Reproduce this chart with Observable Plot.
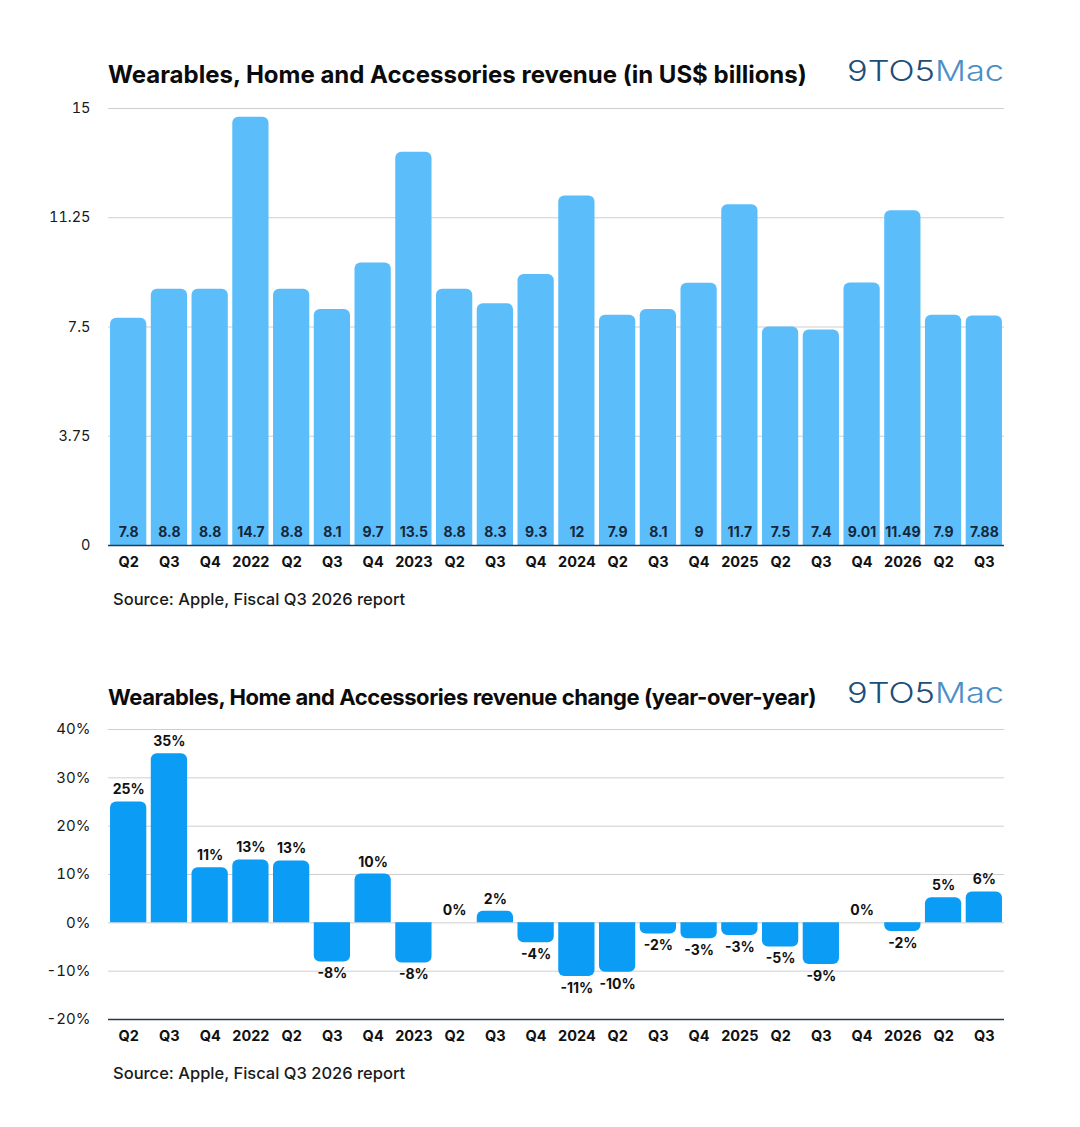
<!DOCTYPE html>
<html>
<head>
<meta charset="utf-8">
<script src="https://cdn.jsdelivr.net/npm/d3@7"></script>
<script src="https://cdn.jsdelivr.net/npm/@observablehq/plot@0.6"></script>
<style>
  html, body { margin: 0; padding: 0; background: #fff; }
  body { width: 1080px; height: 1127px; position: relative; overflow: hidden; font-family: Inter, "Noto Sans", sans-serif; color: #111; }
  .title { position: absolute; left: 108px; font-weight: 700; line-height: 30px; white-space: nowrap; color: #0b0b0b; }
  .source { position: absolute; left: 113px; font-size: 16.5px; font-weight: 500; line-height: 22px; color: #1a1a1a; white-space: nowrap; }
  .logo { position: absolute; left: 846px; width: 160px; height: 34px; }
  .chart { position: absolute; left: 0; }
</style>
</head>
<body>
<div class="title" style="top:60px; font-size:24px; letter-spacing:0px">Wearables, Home and Accessories revenue (in US$ billions)</div>
<svg class="logo" style="top:53px" viewBox="0 0 160 34"><text x="1" y="28" font-family="Inter, sans-serif" font-weight="300" font-size="28" textLength="157" lengthAdjust="spacingAndGlyphs"><tspan fill="#1d4e78">9TO5</tspan><tspan fill="#4b8fc6">Mac</tspan></text></svg>
<div id="chart1" class="chart" style="top:95px"></div>
<div class="source" style="top:588px">Source: Apple, Fiscal Q3 2026 report</div>

<div class="title" style="top:682px; font-size:22px; letter-spacing:-0.45px">Wearables, Home and Accessories revenue change (year-over-year)</div>
<svg class="logo" style="top:675px" viewBox="0 0 160 34"><text x="1" y="28" font-family="Inter, sans-serif" font-weight="300" font-size="28" textLength="157" lengthAdjust="spacingAndGlyphs"><tspan fill="#1d4e78">9TO5</tspan><tspan fill="#4b8fc6">Mac</tspan></text></svg>
<div id="chart2" class="chart" style="top:715px"></div>
<div class="source" style="top:1062px">Source: Apple, Fiscal Q3 2026 report</div>

<script>
// ---- data ----
const quarterLabels = ["Q2","Q3","Q4","2022","Q2","Q3","Q4","2023","Q2","Q3","Q4","2024","Q2","Q3","Q4","2025","Q2","Q3","Q4","2026","Q2","Q3"];
const revenue = [7.8, 8.8, 8.8, 14.7, 8.8, 8.1, 9.7, 13.5, 8.8, 8.3, 9.3, 12, 7.9, 8.1, 9, 11.7, 7.5, 7.4, 9.01, 11.49, 7.9, 7.88];
const yoyChange = [25, 35, 11.4, 13, 12.8, -8.1, 10.1, -8.3, 0, 2.4, -4.1, -11.1, -10.2, -2.3, -3.3, -2.6, -5, -8.6, 0, -1.8, 5.2, 6.4];
const revenueTicks = [0, 3.75, 7.5, 11.25, 15];
const yoyTicks = [-20, -10, 0, 10, 20, 30, 40];

const revRows = revenue.map((v, i) => ({i, v, label: String(v)}));
const yoyRows = yoyChange.map((v, i) => ({i, v, label: Math.round(v) + "%"}));
const yoyPos = yoyRows.filter(d => d.v >= 0);
const yoyNeg = yoyRows.filter(d => d.v < 0);

const xOpts = {type: "band", domain: d3.range(quarterLabels.length), paddingInner: 0.11, paddingOuter: 0.05, round: false};
const baseStyle = {fontFamily: "Inter, 'Noto Sans', sans-serif", fontSize: "14px", color: "#111", background: "#fff", overflow: "visible"};

// ---- chart 1 ----
const c1 = Plot.plot({
  width: 1080, height: 485,
  marginLeft: 108, marginRight: 76, marginTop: 13, marginBottom: 35,
  style: baseStyle,
  x: xOpts,
  y: {domain: [0, 15]},
  marks: [
    Plot.gridY(revenueTicks.filter(t => t !== 0), {stroke: "#cfcfcf", strokeOpacity: 1, strokeWidth: 1}),
    Plot.barY(revRows, {x: "i", y: "v", fill: "#5bbefb", ry1: 6}),
    Plot.ruleY([0], {stroke: "#1d3a56", strokeWidth: 1.5}),
    Plot.text(revRows, {x: "i", y: 0, text: "label", dy: -13, fontWeight: 700, fontSize: 14, fill: "#17263a"}),
    Plot.axisY(revenueTicks, {tickSize: 0, tickPadding: 18, fontSize: 14.5, fill: "#1a1a1a", label: null, tickFormat: d => String(d)}),
    Plot.axisX({tickSize: 0, tickPadding: 11, fontSize: 14.5, fontWeight: 700, fill: "#111", label: null, tickFormat: i => quarterLabels[i]})
  ]
});
document.getElementById("chart1").appendChild(c1);

// ---- chart 2 ----
const c2 = Plot.plot({
  width: 1080, height: 336,
  marginLeft: 108, marginRight: 76, marginTop: 14, marginBottom: 32,
  style: baseStyle,
  x: xOpts,
  y: {domain: [-20, 40]},
  marks: [
    Plot.gridY(yoyTicks.filter(t => t !== -20), {stroke: "#cfcfcf", strokeOpacity: 1, strokeWidth: 1}),
    Plot.barY(yoyPos, {x: "i", y: "v", fill: "#0b9cf6", ry1: 6}),
    Plot.barY(yoyNeg, {x: "i", y: "v", fill: "#0b9cf6", ry2: 6}),
    Plot.ruleY([-20], {stroke: "#1d3a56", strokeWidth: 1.5}),
    Plot.text(yoyPos, {x: "i", y: "v", text: "label", dy: -12, fontWeight: 700, fontSize: 14, fill: "#111"}),
    Plot.text(yoyNeg, {x: "i", y: "v", text: "label", dy: 12, fontWeight: 700, fontSize: 14, fill: "#111"}),
    Plot.axisY(yoyTicks, {tickSize: 0, tickPadding: 18, fontSize: 15, fill: "#1a1a1a", label: null, tickFormat: d => d + "%"}),
    Plot.axisX({tickSize: 0, tickPadding: 11, fontSize: 14.5, fontWeight: 700, fill: "#111", label: null, tickFormat: i => quarterLabels[i]})
  ]
});
document.getElementById("chart2").appendChild(c2);
</script>
</body>
</html>
